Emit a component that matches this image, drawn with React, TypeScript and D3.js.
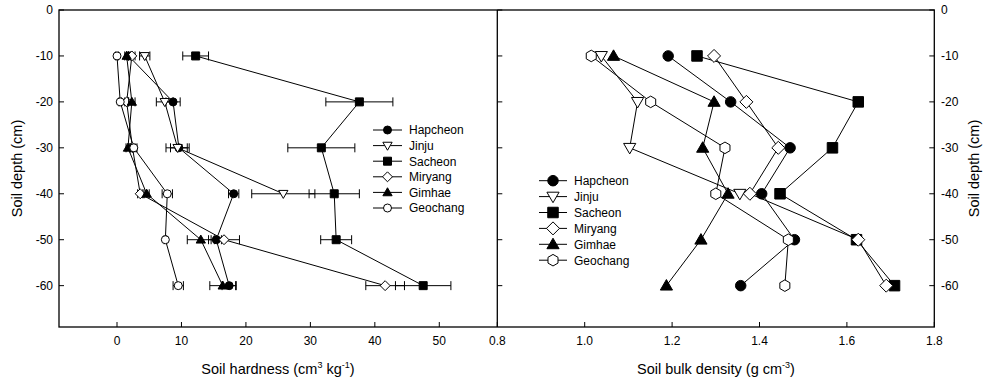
import React from "react";
import * as d3 from "d3";

const depths = [-10, -20, -30, -40, -50, -60];
const sites = ["Hapcheon", "Jinju", "Sacheon", "Miryang", "Gimhae", "Geochang"];

// soil hardness (left panel), mean and sd by depth
const hapcheonHard = [1.8, 8.7, 9.6, 18.1, 15.4, 17.4];
const hapcheonHardSd = [0.3, 1.1, 1.3, 0.8, 0.8, 1.1];
const jinjuHard = [4.3, 7.4, 9.4, 25.8];
const jinjuHardSd = [0.8, 1.3, 1.8, 4.9];
const sacheonHard = [12.2, 37.6, 31.7, 33.7, 34.0, 47.5];
const sacheonHardSd = [2.0, 5.2, 5.2, 3.9, 2.4, 4.3];
const miryangHard = [2.3, 1.5, 2.4, 3.6, 16.6, 41.6];
const miryangHardSd = [0.5, 0.3, 0.4, 0.4, 2.4, 3.0];
const gimhaeHard = [1.5, 2.3, 1.7, 4.6, 13.0, 16.4];
const gimhaeHardSd = [0.3, 0.5, 0.3, 0.4, 2.1, 2.0];
const geochangHard = [0.0, 0.5, 2.6, 7.8, 7.5, 9.5];
const geochangHardSd = [0.2, 0.2, 0.5, 0.8, 0.2, 0.8];

// soil bulk density (right panel)
const hapcheonBd = [1.191, 1.334, 1.47, 1.405, 1.48, 1.357];
const jinjuBd = [1.038, 1.121, 1.103, 1.355];
const sacheonBd = [1.257, 1.626, 1.567, 1.447, 1.622, 1.709];
const miryangBd = [1.296, 1.37, 1.443, 1.378, 1.626, 1.69];
const gimhaeBd = [1.066, 1.296, 1.27, 1.328, 1.266, 1.187];
const geochangBd = [1.015, 1.151, 1.321, 1.3, 1.466, 1.458];

const depthTicks = [0, -10, -20, -30, -40, -50, -60];
const hardTicks = [0, 10, 20, 30, 40, 50];
const bdTicks = [0.8, 1.0, 1.2, 1.4, 1.6, 1.8];

const hardSeries = [
  { mean: hapcheonHard, sd: hapcheonHardSd },
  { mean: jinjuHard, sd: jinjuHardSd },
  { mean: sacheonHard, sd: sacheonHardSd },
  { mean: miryangHard, sd: miryangHardSd },
  { mean: gimhaeHard, sd: gimhaeHardSd },
  { mean: geochangHard, sd: geochangHardSd },
];
const bdSeries = [hapcheonBd, jinjuBd, sacheonBd, miryangBd, gimhaeBd, geochangBd];

const shapes = ["circle", "triDown", "square", "diamond", "triUp", "circle"];
const fills = ["#000", "#fff", "#000", "#fff", "#000", "#fff"];

const FONT = "'Liberation Sans', Arial, Helvetica, sans-serif";

function Marker({ shape, x, y, s, fill }: any) {
  const common = { fill, stroke: "#000", strokeWidth: 1 };
  if (shape === "circle") return <circle cx={x} cy={y} r={s / 2} {...common} />;
  let d = "";
  if (shape === "square") d = `M${-s / 2},${-s / 2}h${s}v${s}h${-s}Z`;
  if (shape === "diamond") {
    const r = s * 0.62;
    d = `M0,${-r}L${r},0L0,${r}L${-r},0Z`;
  }
  if (shape === "triUp") d = `M0,${-s * 0.58}L${s * 0.58},${s * 0.42}L${-s * 0.58},${s * 0.42}Z`;
  if (shape === "triDown") d = `M0,${s * 0.58}L${s * 0.58},${-s * 0.42}L${-s * 0.58},${-s * 0.42}Z`;
  if (shape === "hexagon") {
    const r = s * 0.55;
    const pts = d3.range(6).map((k) => {
      const a = (Math.PI / 3) * k - Math.PI / 2;
      return [r * Math.cos(a), r * Math.sin(a)];
    });
    d = "M" + pts.map((p) => p.join(",")).join("L") + "Z";
  }
  return <path d={d} transform={`translate(${x},${y})`} {...common} />;
}

export default function App() {
  const top = 10;
  const bottom = 327;
  const left = 59;
  const mid = 497.3;
  const right = 934.3;

  const y = d3.scaleLinear().domain([0, -69]).range([top, bottom]);
  const xL = d3.scaleLinear().domain([-9, 59]).range([left, mid]);
  const xR = d3.scaleLinear().domain([0.8, 1.8]).range([mid, right]);

  const line = (xs: any, vals: number[]) =>
    d3.line<number>().x((v) => xs(v)).y((_, i) => y(depths[i]))(vals) || "";

  const tick = 5;

  return (
    <svg
      width={987}
      height={382}
      style={{ position: "absolute", left: 0, top: 0, background: "#fff" }}
      fontFamily={FONT}
    >
      <rect width={987} height={382} fill="#fff" />

      {/* left panel: data */}
      {hardSeries.map((s, k) => (
        <g key={"hl" + k}>
          <path d={line(xL, s.mean)} fill="none" stroke="#000" strokeWidth={1} />
        </g>
      ))}
      {hardSeries.map((s, k) => (
        <g key={"hm" + k}>
          {s.mean.map((v, i) => {
            const cy = y(depths[i]);
            const x0 = xL(v - s.sd[i]);
            const x1 = xL(v + s.sd[i]);
            return (
              <g key={i}>
                <line x1={x0} x2={x1} y1={cy} y2={cy} stroke="#000" strokeWidth={1} />
                <line x1={x0} x2={x0} y1={cy - 4.5} y2={cy + 4.5} stroke="#000" strokeWidth={1} />
                <line x1={x1} x2={x1} y1={cy - 4.5} y2={cy + 4.5} stroke="#000" strokeWidth={1} />
                <Marker shape={shapes[k]} x={xL(v)} y={cy} s={8} fill={fills[k]} />
              </g>
            );
          })}
        </g>
      ))}

      {/* right panel: data */}
      {bdSeries.map((s, k) => (
        <path key={"bl" + k} d={line(xR, s)} fill="none" stroke="#000" strokeWidth={1} />
      ))}
      {bdSeries.map((s, k) => (
        <g key={"bm" + k}>
          {s.map((v, i) => (
            <Marker
              key={i}
              shape={k === 5 ? "hexagon" : shapes[k]}
              x={xR(v)}
              y={y(depths[i])}
              s={10.5}
              fill={fills[k]}
            />
          ))}
        </g>
      ))}

      {/* frame */}
      <rect x={left} y={top} width={right - left} height={bottom - top} fill="none" stroke="#000" strokeWidth={1.3} />
      <line x1={mid} x2={mid} y1={top} y2={bottom} stroke="#000" strokeWidth={1.3} />

      {/* y ticks */}
      {depthTicks.map((d) => (
        <g key={"yt" + d} fontSize={12}>
          <line x1={left} x2={left + tick} y1={y(d)} y2={y(d)} stroke="#000" />
          <line x1={mid} x2={mid + tick} y1={y(d)} y2={y(d)} stroke="#000" />
          <line x1={right - tick} x2={right} y1={y(d)} y2={y(d)} stroke="#000" />
          <text x={53} y={y(d) + 4.3} textAnchor="end">{d}</text>
          <text x={941} y={y(d) + 4.3} textAnchor="start">{d}</text>
        </g>
      ))}

      {/* x ticks */}
      {hardTicks.map((t) => (
        <g key={"xl" + t} fontSize={12}>
          <line x1={xL(t)} x2={xL(t)} y1={bottom - tick} y2={bottom} stroke="#000" />
          <text x={xL(t)} y={345} textAnchor="middle">{t}</text>
        </g>
      ))}
      {bdTicks.map((t) => (
        <g key={"xr" + t} fontSize={12}>
          <line x1={xR(t)} x2={xR(t)} y1={bottom - tick} y2={bottom} stroke="#000" />
          <text x={xR(t)} y={345} textAnchor="middle">{t.toFixed(1)}</text>
        </g>
      ))}

      {/* axis titles */}
      <text x={278} y={374} textAnchor="middle" fontSize={14.5}>
        Soil hardness (cm<tspan dy={-6} fontSize={9}>3</tspan>
        <tspan dy={6}> kg</tspan>
        <tspan dy={-6} fontSize={9}>-1</tspan>
        <tspan dy={6}>)</tspan>
      </text>
      <text x={716} y={374} textAnchor="middle" fontSize={14.5}>
        Soil bulk density (g cm<tspan dy={-6} fontSize={9}>-3</tspan>
        <tspan dy={6}>)</tspan>
      </text>
      <text transform={`translate(22,${(top + bottom) / 2}) rotate(-90)`} textAnchor="middle" fontSize={14.5}>
        Soil depth (cm)
      </text>
      <text transform={`translate(979,${(top + bottom) / 2}) rotate(-90)`} textAnchor="middle" fontSize={14.5}>
        Soil depth (cm)
      </text>

      {/* left legend */}
      {sites.map((name, k) => {
        const ly = 130 + k * 15.6;
        return (
          <g key={"lg" + k}>
            <line x1={373} x2={402} y1={ly} y2={ly} stroke="#000" />
            <Marker shape={shapes[k]} x={387.5} y={ly} s={8} fill={fills[k]} />
            <text x={409} y={ly + 4.3} fontSize={12}>{name}</text>
          </g>
        );
      })}

      {/* right legend */}
      {sites.map((name, k) => {
        const ly = 180.7 + k * 15.9;
        return (
          <g key={"rg" + k}>
            <line x1={539} x2={567} y1={ly} y2={ly} stroke="#000" />
            <Marker shape={k === 5 ? "hexagon" : shapes[k]} x={553} y={ly} s={10.5} fill={fills[k]} />
            <text x={574} y={ly + 4.3} fontSize={12}>{name}</text>
          </g>
        );
      })}
    </svg>
  );
}
